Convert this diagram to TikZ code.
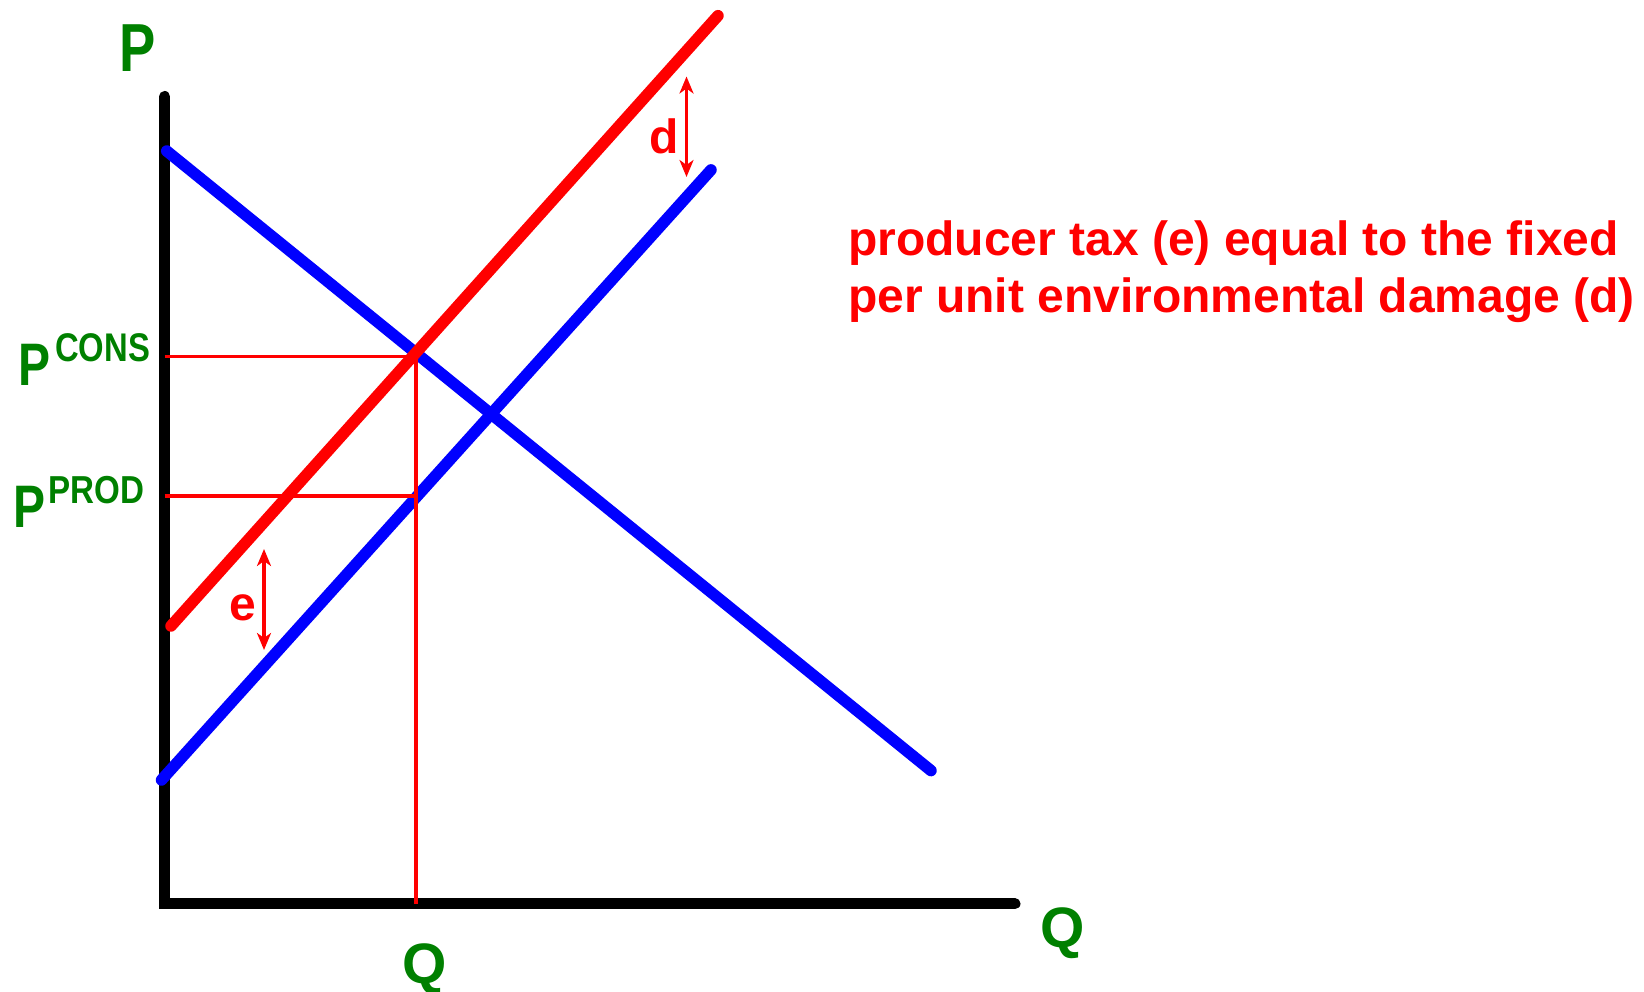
\documentclass[tikz,border=0pt]{standalone}
\usepackage{fontspec}
\setmainfont{Liberation Sans}
\usetikzlibrary{arrows.meta}
\definecolor{lblgreen}{RGB}{0,128,0}
\definecolor{pured}{RGB}{255,0,0}
\definecolor{pureblue}{RGB}{0,0,255}
\tikzset{
  axisline/.style={line width=11pt,black,line cap=round},
  curveblue/.style={line width=11.5pt,pureblue,line cap=round},
  curvered/.style={line width=11.5pt,pured,line cap=round},
  guide/.style={line width=3.2pt,pured},
  gap/.style={line width=3.2pt,pured,{Stealth[length=17pt,width=14pt,inset=5pt]}-{Stealth[length=17pt,width=14pt,inset=5pt]}},
  lbl/.style={inner sep=0pt,anchor=base west,text=lblgreen,font=\bfseries},
  redlbl/.style={inner sep=0pt,text=pured,font=\bfseries},
}
\begin{document}
\begin{tikzpicture}[x=1pt,y=-1pt]
\useasboundingbox (0,0) rectangle (1644,992);
% axes
\coordinate (ytop) at (164.6,96.5);
\coordinate (origin) at (164.6,903.8);
\coordinate (xend) at (1015,903.8);
\draw[axisline] (ytop) -- (origin) -- (xend);
% curves
\coordinate (d1) at (166.7,151);
\coordinate (d2) at (931,770.6);
\coordinate (s1) at (161.5,780);
\coordinate (s2) at (711,169.9);
\coordinate (t1) at (171,626);
\coordinate (t2) at (718,15.7);
\draw[curveblue] (d1) -- (d2);
\draw[curveblue] (s1) -- (s2);
\draw[curvered] (t1) -- (t2);
% guides
\coordinate (pc) at (164.6,356.5);
\coordinate (pcq) at (416,356.5);
\coordinate (pp) at (164.6,496);
\coordinate (ppq) at (416,496);
\coordinate (qb) at (416,903.8);
\draw[guide] (pc) -- (pcq) -- (qb);
\draw[guide] (pp) -- (ppq);
% gap arrows
\coordinate (dtop) at (686.5,76.5);
\coordinate (dbot) at (686.5,177);
\draw[gap] (dtop) -- (dbot);
\coordinate (etop) at (264,549);
\coordinate (ebot) at (264,650);
\draw[gap] (etop) -- (ebot);
\node[redlbl,font=\bfseries\fontsize{48}{48}\selectfont] (dl) at (664,136) {d};
\node[redlbl,font=\bfseries\fontsize{48}{48}\selectfont] (el) at (243,608) {e};
% labels
\node[lbl] (ptop) at (119,72) {\scalebox{0.8}[1]{\fontsize{68}{68}\selectfont P}};
\node[lbl] (pcons) at (18,385) {\scalebox{0.8}[1]{\fontsize{60}{60}\selectfont P}};
\node[lbl] (pconssup) at (55,361) {\scalebox{0.82}[1]{\fontsize{40}{40}\selectfont CONS}};
\node[lbl] (pprod) at (13,527) {\scalebox{0.8}[1]{\fontsize{60}{60}\selectfont P}};
\node[lbl] (pprodsup) at (48,503) {\scalebox{0.85}[1]{\fontsize{39}{39}\selectfont PROD}};
\node[lbl] (qright) at (1040,947) {\fontsize{57}{57}\selectfont Q};
\node[lbl] (qbot) at (402,983) {\fontsize{57}{57}\selectfont Q};
\node[inner sep=0pt,anchor=base west,text=pured,align=left,font=\bfseries\fontsize{48}{58}\selectfont] (note) at (848,313)
  {producer tax (e) equal to the fixed\\per unit environmental damage (d)};
\end{tikzpicture}
\end{document}
